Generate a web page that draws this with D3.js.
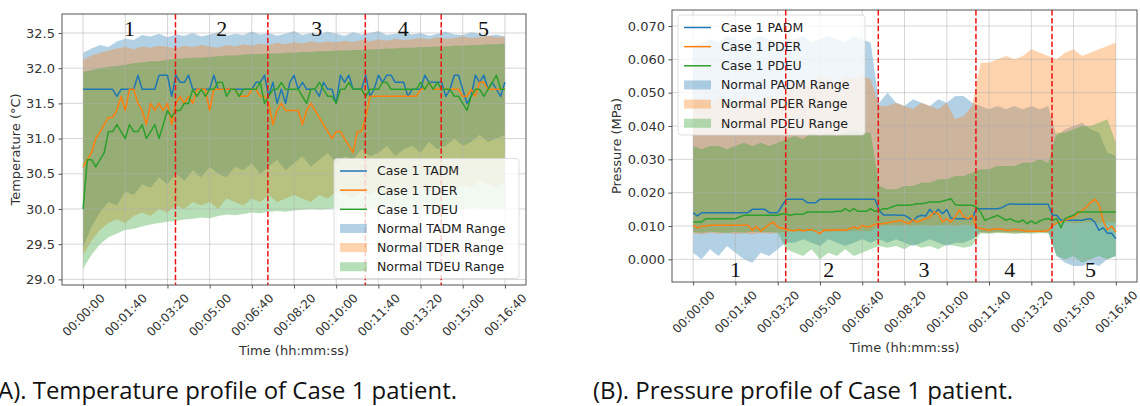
<!DOCTYPE html>
<html>
<head>
<meta charset="utf-8" />
<title>Case 1 profiles</title>
<script src="https://d3js.org/d3.v7.min.js"></script>
<style>
body { margin: 0; background: #fff; }
text { font-family: "DejaVu Sans", sans-serif; }
</style>
</head>
<body>
<script>
// time axis (seconds)
var lineTimes = d3.range(0, 1001, 10);
var bandTimes = d3.range(0, 1001, 20);
var xTicks = d3.range(0, 1001, 100);
var phaseBounds = [219, 438, 669, 849];
var phaseNames = ["1", "2", "3", "4", "5"];
var tempPhasePos = [110, 329, 554, 759, 949];
var presPhasePos = [100, 321, 546, 749, 940];

var tempTicks = [29.0, 29.5, 30.0, 30.5, 31.0, 31.5, 32.0, 32.5];
var presTicks = [0, 0.01, 0.02, 0.03, 0.04, 0.05, 0.06, 0.07];

var tempLegend = ["Case 1 TADM", "Case 1 TDER", "Case 1 TDEU", "Normal TADM Range", "Normal TDER Range", "Normal TDEU Range"];
var presLegend = ["Case 1 PADM", "Case 1 PDER", "Case 1 PDEU", "Normal PADM Range", "Normal PDER Range", "Normal PDEU Range"];

// case 1 temperature, every 10 s
var tadm = [31.7,31.7,31.7,31.7,31.7,31.7,31.7,31.7,31.6,31.7,
  31.7,31.7,31.7,31.9,31.7,31.7,31.7,31.7,31.9,31.9,
  31.9,31.6,31.9,31.8,31.8,31.9,31.7,31.7,31.7,31.7,
  31.7,31.9,31.7,31.7,31.7,31.7,31.7,31.7,31.7,31.7,
  31.7,31.8,31.8,31.9,31.6,31.8,31.5,31.7,31.5,31.8,
  31.9,31.7,31.8,31.7,31.7,31.7,31.6,31.8,31.7,31.7,
  31.5,31.9,31.8,31.9,31.7,31.7,31.7,31.9,31.6,31.7,
  31.9,31.8,31.9,31.9,31.8,31.8,31.8,31.6,31.7,31.7,
  31.7,31.9,31.8,31.8,31.8,31.8,31.6,31.7,31.9,31.9,
  31.7,31.5,31.6,31.9,31.8,31.9,31.7,31.8,31.7,31.6,
  31.8];
var tder = [30.6,30.7,30.8,31.0,31.1,31.2,31.3,31.3,31.4,31.6,
  31.4,31.7,31.7,31.5,31.4,31.2,31.5,31.4,31.5,31.4,
  31.5,31.2,31.5,31.6,31.5,31.6,31.5,31.7,31.7,31.7,
  31.4,31.7,31.7,31.7,31.7,31.7,31.7,31.6,31.6,31.6,
  31.7,31.7,31.6,31.6,31.5,31.2,31.4,31.5,31.4,31.4,
  31.4,31.4,31.2,31.4,31.5,31.4,31.3,31.2,31.1,31.0,
  31.1,31.1,31.0,30.9,30.8,31.1,31.1,31.3,31.6,31.6,
  31.6,31.6,31.6,31.6,31.6,31.6,31.6,31.6,31.6,31.6,
  31.7,31.7,31.8,31.7,31.7,31.7,31.7,31.7,31.7,31.7,
  31.6,31.6,31.7,31.6,31.8,31.8,31.7,31.7,31.7,31.7,
  31.7];
var tdeu = [30.0,30.7,30.7,30.6,30.7,30.8,31.1,31.1,31.2,31.1,
  31.0,31.2,31.1,31.1,31.2,31.0,31.1,31.2,31.0,31.2,
  31.4,31.3,31.4,31.4,31.5,31.5,31.7,31.6,31.7,31.6,
  31.7,31.7,31.8,31.8,31.6,31.7,31.7,31.6,31.7,31.7,
  31.7,31.7,31.8,31.5,31.6,31.7,31.7,31.8,31.7,31.7,
  31.7,31.7,31.6,31.5,31.7,31.7,31.8,31.7,31.6,31.6,
  31.5,31.7,31.7,31.8,31.7,31.7,31.7,31.6,31.7,31.7,
  31.7,31.8,31.8,31.7,31.7,31.7,31.7,31.7,31.7,31.7,
  31.8,31.7,31.8,31.7,31.8,31.7,31.7,31.7,31.6,31.6,
  31.5,31.4,31.6,31.7,31.7,31.6,31.7,31.8,31.9,31.7,
  31.7];

// normal temperature ranges, every 20 s
var tadmHi = [32.22,32.28,32.33,32.30,32.38,32.42,32.40,32.47,32.45,32.49,
  32.44,32.48,32.46,32.50,32.45,32.48,32.51,32.46,32.49,32.47,
  32.52,32.48,32.50,32.46,32.49,32.53,32.47,32.50,32.48,32.52,
  32.49,32.46,32.51,32.48,32.50,32.53,32.47,32.49,32.51,32.48,
  32.50,32.46,32.49,32.52,32.48,32.47,32.51,32.49,32.46,32.48,32.45];
var tadmLo = [29.45,29.75,29.95,30.10,30.05,30.25,30.20,30.35,30.30,30.45,
  30.35,30.50,30.40,30.55,30.45,30.60,30.50,30.45,30.60,30.55,
  30.65,30.50,30.60,30.70,30.55,30.65,30.75,30.60,30.70,30.80,
  30.65,30.75,30.70,30.85,30.75,30.80,30.90,30.75,30.85,30.90,
  30.80,30.95,30.85,30.90,31.00,30.90,30.95,31.05,30.95,31.00,31.05];
var tderHi = [32.12,32.18,32.22,32.25,32.28,32.30,32.27,32.31,32.29,32.32,
  32.30,32.28,32.32,32.30,32.33,32.31,32.29,32.33,32.31,32.34,
  32.32,32.35,32.33,32.36,32.34,32.37,32.35,32.38,32.36,32.38,
  32.37,32.39,32.37,32.40,32.38,32.41,32.39,32.42,32.40,32.41,
  32.43,32.41,32.44,32.42,32.43,32.45,32.43,32.44,32.46,32.44,32.45];
var tderLo = [29.35,29.55,29.70,29.80,29.85,29.80,29.90,29.95,29.90,30.00,
  29.95,30.05,30.00,30.10,30.05,30.10,30.00,30.15,30.10,30.05,
  30.15,30.10,30.20,30.10,30.15,30.20,30.15,30.10,30.20,30.15,
  30.25,30.20,30.15,30.25,30.20,30.30,30.20,30.25,30.30,30.20,
  30.30,30.25,30.35,30.30,30.25,30.35,30.30,30.40,30.35,30.30,30.40];
var tdeuHi = [31.95,31.97,32.00,32.02,32.03,32.05,32.07,32.08,32.10,32.10,
  32.12,32.13,32.14,32.15,32.15,32.16,32.17,32.18,32.18,32.19,
  32.20,32.20,32.21,32.21,32.22,32.22,32.23,32.23,32.24,32.24,
  32.25,32.25,32.26,32.26,32.27,32.27,32.28,32.28,32.29,32.29,
  32.30,32.30,32.31,32.31,32.32,32.32,32.33,32.33,32.34,32.34,32.35];
var tdeuLo = [29.15,29.35,29.50,29.60,29.65,29.70,29.72,29.75,29.78,29.80,
  29.82,29.83,29.85,29.86,29.88,29.87,29.90,29.92,29.91,29.93,
  29.95,29.94,29.96,29.97,29.96,29.98,29.99,30.00,29.99,30.00,
  30.01,30.00,30.02,30.01,30.00,30.02,30.01,30.00,30.02,30.01,
  30.00,30.01,30.02,30.00,30.01,30.00,30.02,30.01,30.00,30.01,30.00];

// case 1 pressure, every 10 s
var padm = [0.014,0.013,0.014,0.014,0.014,0.014,0.014,0.014,0.014,0.014,
  0.014,0.014,0.014,0.014,0.015,0.015,0.015,0.015,0.014,0.014,
  0.014,0.016,0.018,0.018,0.018,0.018,0.018,0.017,0.017,0.017,
  0.018,0.018,0.018,0.018,0.018,0.018,0.018,0.018,0.018,0.018,
  0.018,0.018,0.018,0.018,0.0147,0.0133,0.0133,0.0133,0.0133,0.0132,
  0.0132,0.0125,0.0115,0.0128,0.0132,0.0130,0.0150,0.0136,0.0150,0.0137,
  0.0149,0.0123,0.0122,0.0122,0.0122,0.0122,0.0122,0.0152,0.0152,0.0152,
  0.0152,0.0152,0.0152,0.0155,0.0162,0.0167,0.0165,0.0165,0.0165,0.0165,
  0.0165,0.0165,0.0165,0.0165,0.0165,0.0132,0.0132,0.0117,0.0117,0.0117,
  0.0117,0.0117,0.0117,0.0120,0.0122,0.0112,0.0087,0.0095,0.0078,0.0078,
  0.0062];
var pder = [0.0102,0.0095,0.0099,0.0100,0.0102,0.0102,0.0102,0.0102,0.0102,0.0102,
  0.0102,0.0102,0.0102,0.0102,0.0087,0.0099,0.0084,0.0095,0.0105,0.0112,
  0.0097,0.0094,0.0090,0.0087,0.0085,0.0090,0.0085,0.0089,0.0089,0.0084,
  0.0077,0.0089,0.0088,0.0087,0.0089,0.0088,0.0087,0.0092,0.0097,0.0092,
  0.0102,0.0097,0.0099,0.0105,0.0107,0.0107,0.0110,0.0112,0.0114,0.0117,
  0.0112,0.0107,0.0119,0.0112,0.0117,0.0122,0.0127,0.0142,0.0137,0.0112,
  0.0122,0.0112,0.0127,0.0149,0.0127,0.0122,0.0132,0.0097,0.0092,0.0090,
  0.0087,0.0090,0.0092,0.0090,0.0087,0.0087,0.0090,0.0089,0.0087,0.0084,
  0.0084,0.0084,0.0084,0.0084,0.0087,0.0100,0.0109,0.0112,0.0117,0.0122,
  0.0127,0.0137,0.0147,0.0157,0.0170,0.0180,0.0165,0.0115,0.0088,0.0100,
  0.0082];
var pdeu = [0.0112,0.0112,0.0112,0.0122,0.0122,0.0122,0.0122,0.0122,0.0122,0.0122,
  0.0122,0.0127,0.0132,0.0132,0.0132,0.0132,0.0132,0.0132,0.0132,0.0132,
  0.0132,0.0136,0.0136,0.0132,0.0135,0.0135,0.0135,0.0142,0.0142,0.0142,
  0.0142,0.0142,0.0142,0.0142,0.0144,0.0144,0.0152,0.0144,0.0152,0.0144,
  0.0144,0.0144,0.0152,0.0144,0.0147,0.0152,0.0152,0.0157,0.0162,0.0162,
  0.0162,0.0162,0.0164,0.0167,0.0167,0.0169,0.0172,0.0172,0.0172,0.0174,
  0.0178,0.0182,0.0164,0.0162,0.0162,0.0162,0.0162,0.0157,0.0142,0.0117,
  0.0122,0.0127,0.0132,0.0125,0.0117,0.0122,0.0115,0.0112,0.0118,0.0107,
  0.0115,0.0107,0.0115,0.0120,0.0122,0.0117,0.0122,0.0095,0.0122,0.0128,
  0.0132,0.0142,0.0142,0.0142,0.0142,0.0142,0.0142,0.0142,0.0142,0.0142,
  0.0142];

// normal pressure ranges, every 20 s
var padmHi = [0.064,0.065,0.066,0.065,0.067,0.066,0.065,0.066,0.067,0.066,0.065,
  0.066,
  0.066,0.067,0.065,0.066,0.067,0.066,0.065,0.067,0.066,0.065,
  0.047,
  0.050,0.047,0.046,0.048,0.047,0.046,0.048,0.047,0.049,0.049,0.047,
  0.046,0.045,0.046,0.045,0.046,0.045,0.046,0.045,0.046,
  0.037,0.039,0.040,0.041,0.039,0.038,0.032,0.031];
var padmLo = [0.002,0.000,0.003,0.001,0.004,0.002,0.000,-0.001,0.002,0.001,0.003,
  0.005,
  0.005,0.006,0.005,0.004,0.006,0.005,0.004,0.005,0.006,0.005,
  0.006,
  0.005,0.006,0.005,0.004,0.005,0.006,0.005,0.004,0.005,0.005,0.006,
  0.0082,0.0080,0.0083,0.0081,0.0082,0.0080,0.0083,0.0082,0.0081,
  0.001,-0.001,-0.002,-0.002,-0.001,-0.002,0.000,0.001];
var pderHi = [0.047,0.048,0.046,0.049,0.048,0.047,0.049,0.048,0.047,0.049,0.048,
  0.050,
  0.052,0.054,0.053,0.055,0.054,0.053,0.055,0.054,0.055,0.054,
  0.046,
  0.046,0.047,0.046,0.045,0.047,0.046,0.045,0.047,0.042,0.043,0.046,
  0.059,0.059,0.060,0.061,0.060,0.061,0.063,0.062,0.061,
  0.060,0.062,0.063,0.061,0.062,0.063,0.064,0.065];
var pderLo = [0.0078,0.0075,0.0080,0.0077,0.0079,0.0076,0.0078,0.0075,0.0079,0.0077,0.0080,
  0.0082,
  0.0085,0.0083,0.0086,0.0084,0.0082,0.0085,0.0083,0.0086,0.0084,0.0085,
  0.0100,
  0.0102,0.0100,0.0103,0.0101,0.0104,0.0100,0.0102,0.0103,0.0101,0.0104,0.0102,
  0.0080,0.0079,0.0081,0.0080,0.0078,0.0080,0.0079,0.0081,0.0080,
  0.0110,0.0112,0.0108,0.0110,0.0113,0.0109,0.0111,0.0110];
var pdeuHi = [0.034,0.033,0.034,0.034,0.033,0.034,0.035,0.034,0.035,0.034,0.035,
  0.036,
  0.037,0.036,0.038,0.037,0.038,0.037,0.038,0.039,0.038,0.038,
  0.022,
  0.021,0.021,0.022,0.022,0.023,0.023,0.024,0.024,0.025,0.025,0.026,
  0.027,0.027,0.028,0.028,0.028,0.029,0.029,0.030,0.029,
  0.038,0.038,0.039,0.040,0.040,0.041,0.042,0.035];
var pdeuLo = [0.0082,0.0080,0.0083,0.0081,0.0079,0.0082,0.0080,0.0083,0.0081,0.0082,0.0080,
  0.003,
  0.002,0.001,0.003,0.000,0.002,0.001,0.003,0.001,0.002,0.003,
  0.004,
  0.0035,0.004,0.003,0.0045,0.0035,0.004,0.003,0.0045,0.004,0.0035,0.004,
  0.0078,0.0077,0.0079,0.0078,0.0076,0.0078,0.0077,0.0079,0.0078,
  0.001,0.000,0.001,-0.001,0.000,0.001,0.000,0.001];

var colors = ["#1f77b4", "#ff7f0e", "#2ca02c"];
var bandAlpha = 0.34;

var svg = d3.select("body").append("svg")
  .attr("width", 1140)
  .attr("height", 406);
svg.append("rect").attr("width", 1140).attr("height", 406).attr("fill", "#fff");

function pad2(n) { return (n < 10 ? "0" : "") + n; }
function fmtTime(s) {
  return pad2(Math.floor(s / 3600)) + ":" + pad2(Math.floor(s % 3600 / 60)) + ":" + pad2(s % 60);
}

function drawPanel(o) {
  var x = d3.scaleLinear().domain([-50, 1050]).range([o.left, o.right]);
  var y = d3.scaleLinear().domain(o.yDomain).range([o.bottom, o.top]);
  var g = svg.append("g");

  g.append("clipPath").attr("id", o.id + "clip")
    .append("rect")
    .attr("x", o.left).attr("y", o.top)
    .attr("width", o.right - o.left).attr("height", o.bottom - o.top);
  var plot = g.append("g").attr("clip-path", "url(#" + o.id + "clip)");

  // normal ranges
  var area = d3.area()
    .x(function(d) { return x(d.t); })
    .y0(function(d) { return y(d.lo); })
    .y1(function(d) { return y(d.hi); });
  o.bands.forEach(function(b, i) {
    var rows = bandTimes.map(function(t, k) { return { t: t, lo: b[0][k], hi: b[1][k] }; });
    plot.append("path").datum(rows)
      .attr("d", area)
      .attr("fill", colors[i])
      .attr("fill-opacity", bandAlpha);
  });

  // grid
  plot.selectAll(".gx").data(xTicks).enter().append("line")
    .attr("x1", function(d) { return x(d); }).attr("x2", function(d) { return x(d); })
    .attr("y1", o.top).attr("y2", o.bottom)
    .attr("stroke", "#b0b0b0").attr("stroke-opacity", 0.65).attr("stroke-width", 0.8);
  plot.selectAll(".gy").data(o.yTicks).enter().append("line")
    .attr("y1", function(d) { return y(d); }).attr("y2", function(d) { return y(d); })
    .attr("x1", o.left).attr("x2", o.right)
    .attr("stroke", "#b0b0b0").attr("stroke-opacity", 0.65).attr("stroke-width", 0.8);

  // case lines
  var line = d3.line()
    .x(function(d) { return x(d[0]); })
    .y(function(d) { return y(d[1]); });
  o.lines.forEach(function(s, i) {
    plot.append("path")
      .datum(lineTimes.map(function(t, k) { return [t, s[k]]; }))
      .attr("d", line)
      .attr("fill", "none")
      .attr("stroke", colors[i])
      .attr("stroke-width", 1.5)
      .attr("stroke-linejoin", "round");
  });

  function phaseLines(target) {
    target.selectAll(".ph").data(phaseBounds).enter().append("line")
      .attr("x1", function(d) { return x(d); }).attr("x2", function(d) { return x(d); })
      .attr("y1", o.top).attr("y2", o.bottom)
      .attr("stroke", "#ee1111").attr("stroke-width", 1.5)
      .attr("stroke-dasharray", "5.5,2.4");
  }
  if (!o.phaseOnTop) phaseLines(plot);

  // phase numbers
  g.selectAll(".pn").data(phaseNames).enter().append("text")
    .attr("x", function(d, i) { return x(o.phasePos[i]); })
    .attr("y", o.phaseY)
    .attr("text-anchor", "middle")
    .style("font-family", "'Liberation Serif', serif")
    .style("font-size", "22px")
    .attr("fill", "#111")
    .text(function(d) { return d; });

  // legend
  var lg = g.append("g");
  lg.append("rect")
    .attr("x", o.legend.x).attr("y", o.legend.y)
    .attr("width", o.legend.w).attr("height", 120)
    .attr("rx", 3)
    .attr("fill", "#fff").attr("fill-opacity", 0.8)
    .attr("stroke", "#d6d6d6").attr("stroke-width", 0.8);
  o.legendLabels.forEach(function(lab, i) {
    var cy = o.legend.y + 12.5 + i * 19.15;
    var hx = o.legend.x + 6;
    if (i < 3) {
      lg.append("line")
        .attr("x1", hx).attr("x2", hx + 27)
        .attr("y1", cy).attr("y2", cy)
        .attr("stroke", colors[i]).attr("stroke-width", 1.5);
    } else {
      lg.append("rect")
        .attr("x", hx).attr("y", cy - 4.5)
        .attr("width", 27).attr("height", 9)
        .attr("fill", colors[i - 3]).attr("fill-opacity", bandAlpha);
    }
    lg.append("text")
      .attr("x", hx + 37).attr("y", cy)
      .attr("dy", "0.35em")
      .style("font-size", "12.5px")
      .attr("fill", "#222")
      .text(lab);
  });

  if (o.phaseOnTop) phaseLines(g);

  // spines
  g.append("rect")
    .attr("x", o.left).attr("y", o.top)
    .attr("width", o.right - o.left).attr("height", o.bottom - o.top)
    .attr("fill", "none").attr("stroke", "#555").attr("stroke-width", 1);

  // axes
  var xa = g.append("g").attr("transform", "translate(0," + o.bottom + ")")
    .call(d3.axisBottom(x).tickValues(xTicks).tickFormat(fmtTime).tickSize(3.5));
  xa.select(".domain").remove();
  xa.selectAll("line").attr("stroke", "#555");
  xa.selectAll("text")
    .attr("y", 0).attr("dy", "0.35em")
    .attr("transform", "translate(0,30) rotate(-45)")
    .style("text-anchor", "middle")
    .style("font-family", "'DejaVu Sans', sans-serif")
    .style("font-size", "12px")
    .attr("fill", "#333");

  var ya = g.append("g").attr("transform", "translate(" + o.left + ",0)")
    .call(d3.axisLeft(y).tickValues(o.yTicks).tickFormat(d3.format(o.yFormat)).tickSize(3.5).tickPadding(3.5));
  ya.select(".domain").remove();
  ya.selectAll("line").attr("stroke", "#555");
  ya.selectAll("text")
    .style("font-family", "'DejaVu Sans', sans-serif")
    .style("font-size", "13px")
    .attr("fill", "#333");

  // axis titles
  g.append("text")
    .attr("x", (o.left + o.right) / 2).attr("y", o.bottom + 70)
    .attr("text-anchor", "middle")
    .style("font-size", "13px").attr("fill", "#333")
    .text("Time (hh:mm:ss)");
  g.append("text")
    .attr("transform", "translate(" + o.yLabelX + "," + ((o.top + o.bottom) / 2) + ") rotate(-90)")
    .attr("text-anchor", "middle")
    .style("font-size", "13px").attr("fill", "#333")
    .text(o.yLabel);

  // caption
  g.append("text")
    .attr("x", o.caption.x).attr("y", 399)
    .attr("textLength", o.caption.len)
    .attr("lengthAdjust", "spacingAndGlyphs")
    .style("font-family", "'Open Sans', sans-serif")
    .style("font-size", "24px")
    .attr("fill", "#111")
    .text(o.caption.text);
}

drawPanel({
  id: "temp",
  left: 62, right: 526, top: 14, bottom: 285,
  yDomain: [28.92, 32.77],
  yTicks: tempTicks, yFormat: ".1f",
  yLabel: "Temperature (°C)", yLabelX: 20,
  bands: [[tadmLo, tadmHi], [tderLo, tderHi], [tdeuLo, tdeuHi]],
  lines: [tadm, tder, tdeu],
  phasePos: tempPhasePos, phaseY: 36,
  legendLabels: tempLegend,
  legend: { x: 334, y: 158.5, w: 185 },
  phaseOnTop: false,
  caption: { x: -9, len: 466, text: "(A). Temperature profile of Case 1 patient." }
});

drawPanel({
  id: "pres",
  left: 672, right: 1137, top: 10, bottom: 282,
  yDomain: [-0.0068, 0.0748],
  yTicks: presTicks, yFormat: ".3f",
  yLabel: "Pressure (MPa)", yLabelX: 621,
  bands: [[padmLo, padmHi], [pderLo, pderHi], [pdeuLo, pdeuHi]],
  lines: [padm, pder, pdeu],
  phasePos: presPhasePos, phaseY: 277,
  legendLabels: presLegend,
  legend: { x: 678, y: 15, w: 187 },
  phaseOnTop: true,
  caption: { x: 593, len: 420, text: "(B). Pressure profile of Case 1 patient." }
});
</script>
</body>
</html>
